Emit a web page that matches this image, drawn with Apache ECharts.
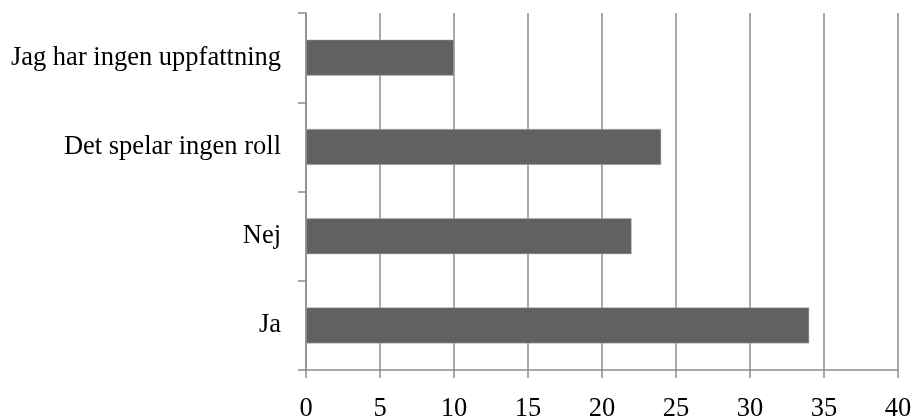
<!DOCTYPE html>
<html>
<head>
<meta charset="utf-8">
<script src="https://cdn.jsdelivr.net/npm/echarts@6/dist/echarts.min.js"></script>
<style>
  html, body { margin: 0; padding: 0; background: #fff; }
  #chart { width: 915px; height: 420px; }
</style>
</head>
<body>
<div id="chart"></div>
<script>
// Survey answers, bottom to top
const categories = ['Ja', 'Nej', 'Det spelar ingen roll', 'Jag har ingen uppfattning'];
const answerCounts = [34, 22, 24, 10];

const axisGray = '#8c8c8c';
const font = '"Liberation Serif", "Times New Roman", serif';

const chart = echarts.init(document.getElementById('chart'), null, { renderer: 'canvas' });
chart.setOption({
  animation: false,
  backgroundColor: '#ffffff',
  grid: {
    left: 306, right: 17, top: 13, bottom: 50,
    containLabel: false,
    outerBoundsMode: 'none'
  },
  xAxis: {
    type: 'value',
    min: 0,
    max: 40,
    interval: 5,
    axisLine: { show: true, lineStyle: { color: axisGray, width: 1.5 } },
    axisTick: { show: true, length: 8, lineStyle: { color: axisGray, width: 1.5 } },
    splitLine: { show: true, lineStyle: { color: axisGray, width: 1.5 } },
    axisLabel: { color: '#000', fontFamily: font, fontSize: 26.5, margin: 26 }
  },
  yAxis: {
    type: 'category',
    data: categories,
    axisLine: { show: true, lineStyle: { color: axisGray, width: 1.5 } },
    axisTick: { show: true, length: 8, lineStyle: { color: axisGray, width: 1.5 } },
    axisLabel: { color: '#000', fontFamily: font, fontSize: 26.5, margin: 25 }
  },
  series: [{
    type: 'bar',
    data: answerCounts,
    barWidth: 36,
    itemStyle: { color: '#616161', borderColor: '#bdbdbd', borderWidth: 0.5 }
  }]
});
</script>
</body>
</html>
